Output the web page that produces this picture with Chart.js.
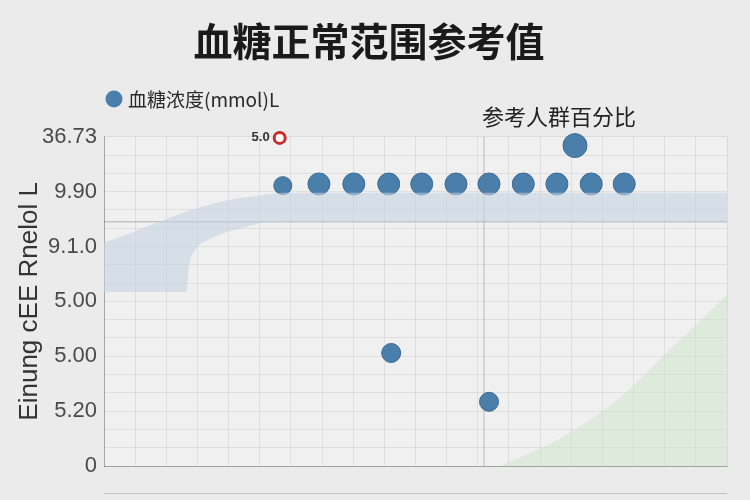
<!DOCTYPE html>
<html>
<head>
<meta charset="utf-8">
<script src="https://cdn.jsdelivr.net/npm/chart.js@4"></script>
<style>
  html, body { margin: 0; padding: 0; background: #ebebeb; }
  #wrap { width: 750px; height: 500px; }
</style>
</head>
<body>
<div id="wrap"><canvas id="chart"></canvas></div>
<script>
// Texts
const titleText = "血糖正常范围参考值";
const seriesLabel = "血糖浓度(mmol)L";
const groupLabel = "参考人群百分比";
const yAxisTitle = "Einung cEE Rnelol L";
const yTickLabels = ["0", "5.20", "5.00", "5.00", "9.1.0", "9.90", "36.73"];

// Blood glucose points
const glucoseX = [28.7, 34.5, 40.1, 45.7, 51.0, 56.5, 61.8, 67.3, 72.7, 78.2, 83.5, 46.1, 61.8, 75.6];
const glucoseY = [5.11, 5.14, 5.14, 5.14, 5.14, 5.14, 5.14, 5.14, 5.14, 5.14, 5.14, 2.06, 1.17, 5.84];

// Highlighted value
const markerX = [28.2];
const markerY = [5.98];
const markerLabel = ["5.0"];

// Reference band (upper and lower edge)
const bandUpperX = [0, 6.1, 12.8, 19.3, 25.0, 29.0, 100];
const bandUpperY = [4.07, 4.33, 4.62, 4.83, 4.93, 4.98, 4.98];
const bandLowerX = [0, 13.2, 13.6, 14.5, 16.7, 22.6, 27.3, 100];
const bandLowerY = [3.17, 3.17, 3.62, 3.92, 4.12, 4.35, 4.45, 4.45];

// Population share area
const shareX = [63.6, 73.2, 82.8, 92.5, 100];
const shareY = [0, 0.5, 1.25, 2.3, 3.12];

// Reference lines
const refLevel = 4.45;
const refPosition = 61.0;

const toPoints = (xs, ys) => xs.map((x, i) => ({ x: x, y: ys[i] }));

const blue = "#4a7eab";

const backgroundPlugin = {
    id: "background",
    beforeDraw(chart) {
        const { ctx, chartArea: a } = chart;
        ctx.save();
        ctx.fillStyle = "#ebebeb";
        ctx.fillRect(0, 0, chart.width, chart.height);
        ctx.fillStyle = "#f0f0f0";
        ctx.fillRect(a.left, a.top, a.right - a.left, a.bottom - a.top);
        ctx.restore();
    },
};

// Legend, group label and the value label next to the marker
const labelsPlugin = {
    id: "labels",
    afterDraw(chart) {
        const { ctx, chartArea: a } = chart;
        ctx.save();
        ctx.fillStyle = blue;
        ctx.beginPath();
        ctx.arc(114, 99, 8.5, 0, Math.PI * 2);
        ctx.fill();
        ctx.fillStyle = "#2a2a2a";
        ctx.font = "19px 'Noto Sans CJK SC'";
        ctx.textBaseline = "middle";
        ctx.fillText(seriesLabel, 128, 100);

        ctx.font = "22px 'Noto Sans CJK SC'";
        ctx.fillStyle = "#222";
        ctx.fillText(groupLabel, 482, 117);

        const m = chart.getDatasetMeta(5).data[0];
        ctx.font = "bold 13px 'Liberation Sans'";
        ctx.fillStyle = "#333";
        ctx.textAlign = "right";
        ctx.fillText(markerLabel[0], m.x - 10, m.y);

        // lower axis line
        ctx.strokeStyle = "rgba(0,0,0,0.18)";
        ctx.lineWidth = 1;
        ctx.beginPath();
        ctx.moveTo(a.left, a.bottom + 27.5);
        ctx.lineTo(a.right, a.bottom + 27.5);
        ctx.stroke();
        ctx.restore();
    },
};

const ctx = document.getElementById("chart").getContext("2d");
new Chart(ctx, {
    type: "scatter",
    data: {
        datasets: [
            {
                type: "line",
                data: toPoints(shareX, shareY),
                borderWidth: 0,
                pointRadius: 0,
                fill: "origin",
                backgroundColor: "rgba(200,226,194,0.45)",
                cubicInterpolationMode: "monotone",
            },
            {
                type: "line",
                data: toPoints(bandUpperX, bandUpperY),
                borderWidth: 0,
                pointRadius: 0,
                fill: false,
                cubicInterpolationMode: "monotone",
            },
            {
                type: "line",
                data: toPoints(bandLowerX, bandLowerY),
                borderWidth: 0,
                pointRadius: 0,
                fill: "-1",
                backgroundColor: "rgba(196,210,226,0.6)",
                cubicInterpolationMode: "monotone",
            },
            {
                type: "line",
                data: [{ x: 0, y: refLevel }, { x: 100, y: refLevel }],
                borderColor: "rgba(120,120,120,0.55)",
                borderWidth: 1,
                pointRadius: 0,
            },
            {
                type: "line",
                data: [{ x: refPosition, y: 0 }, { x: refPosition, y: 6 }],
                borderColor: "rgba(120,120,120,0.45)",
                borderWidth: 1,
                pointRadius: 0,
            },
            {
                label: "marker",
                data: toPoints(markerX, markerY),
                clip: false,
                pointRadius: 5.5,
                pointBackgroundColor: "#ffffff",
                pointBorderColor: "#c3302c",
                pointBorderWidth: 3,
            },
            {
                label: seriesLabel,
                data: toPoints(glucoseX, glucoseY),
                clip: false,
                pointRadius: [9, 11, 11, 11, 11, 11, 11, 11, 11, 11, 11, 9.5, 9.5, 12],
                pointBackgroundColor: blue,
                pointBorderColor: "#3d6b93",
                pointBorderWidth: 1,
            },
        ],
    },
    options: {
        responsive: true,
        maintainAspectRatio: false,
        animation: false,
        layout: { padding: { left: 11, right: 23, top: 0, bottom: 34 } },
        plugins: {
            legend: { display: false },
            tooltip: { enabled: false },
            title: {
                display: true,
                text: titleText,
                color: "#1a1a1a",
                font: { family: "'Noto Sans CJK SC'", size: 39, weight: "bold" },
                padding: { top: 18, bottom: 72 },
            },
        },
        scales: {
            x: {
                type: "linear",
                min: 0,
                max: 100,
                ticks: { display: false, stepSize: 5 },
                grid: { color: "rgba(0,0,0,0.07)", drawTicks: false },
                border: { color: "rgba(0,0,0,0.25)" },
            },
            y: {
                min: 0,
                max: 6,
                afterBuildTicks: (scale) => {
                    scale.ticks = Array.from({ length: 19 }, (_, k) => ({ value: k / 3 }));
                },
                afterFit: (scale) => {
                    scale.width = 93;
                },
                ticks: {
                    autoSkip: false,
                    padding: 7,
                    color: "#4a4a4a",
                    font: { family: "'Liberation Sans'", size: 22 },
                    callback: (value) => {
                        const r = Math.round(value);
                        return Math.abs(value - r) < 1e-6 ? yTickLabels[r] : "";
                    },
                },
                grid: { color: "rgba(0,0,0,0.07)", drawTicks: false },
                border: { color: "rgba(0,0,0,0.25)" },
                title: {
                    display: true,
                    text: yAxisTitle,
                    color: "#333",
                    font: { family: "'Liberation Sans'", size: 26 },
                    padding: { top: 3, bottom: 4 },
                },
            },
        },
    },
    plugins: [backgroundPlugin, labelsPlugin],
});
</script>
</body>
</html>
